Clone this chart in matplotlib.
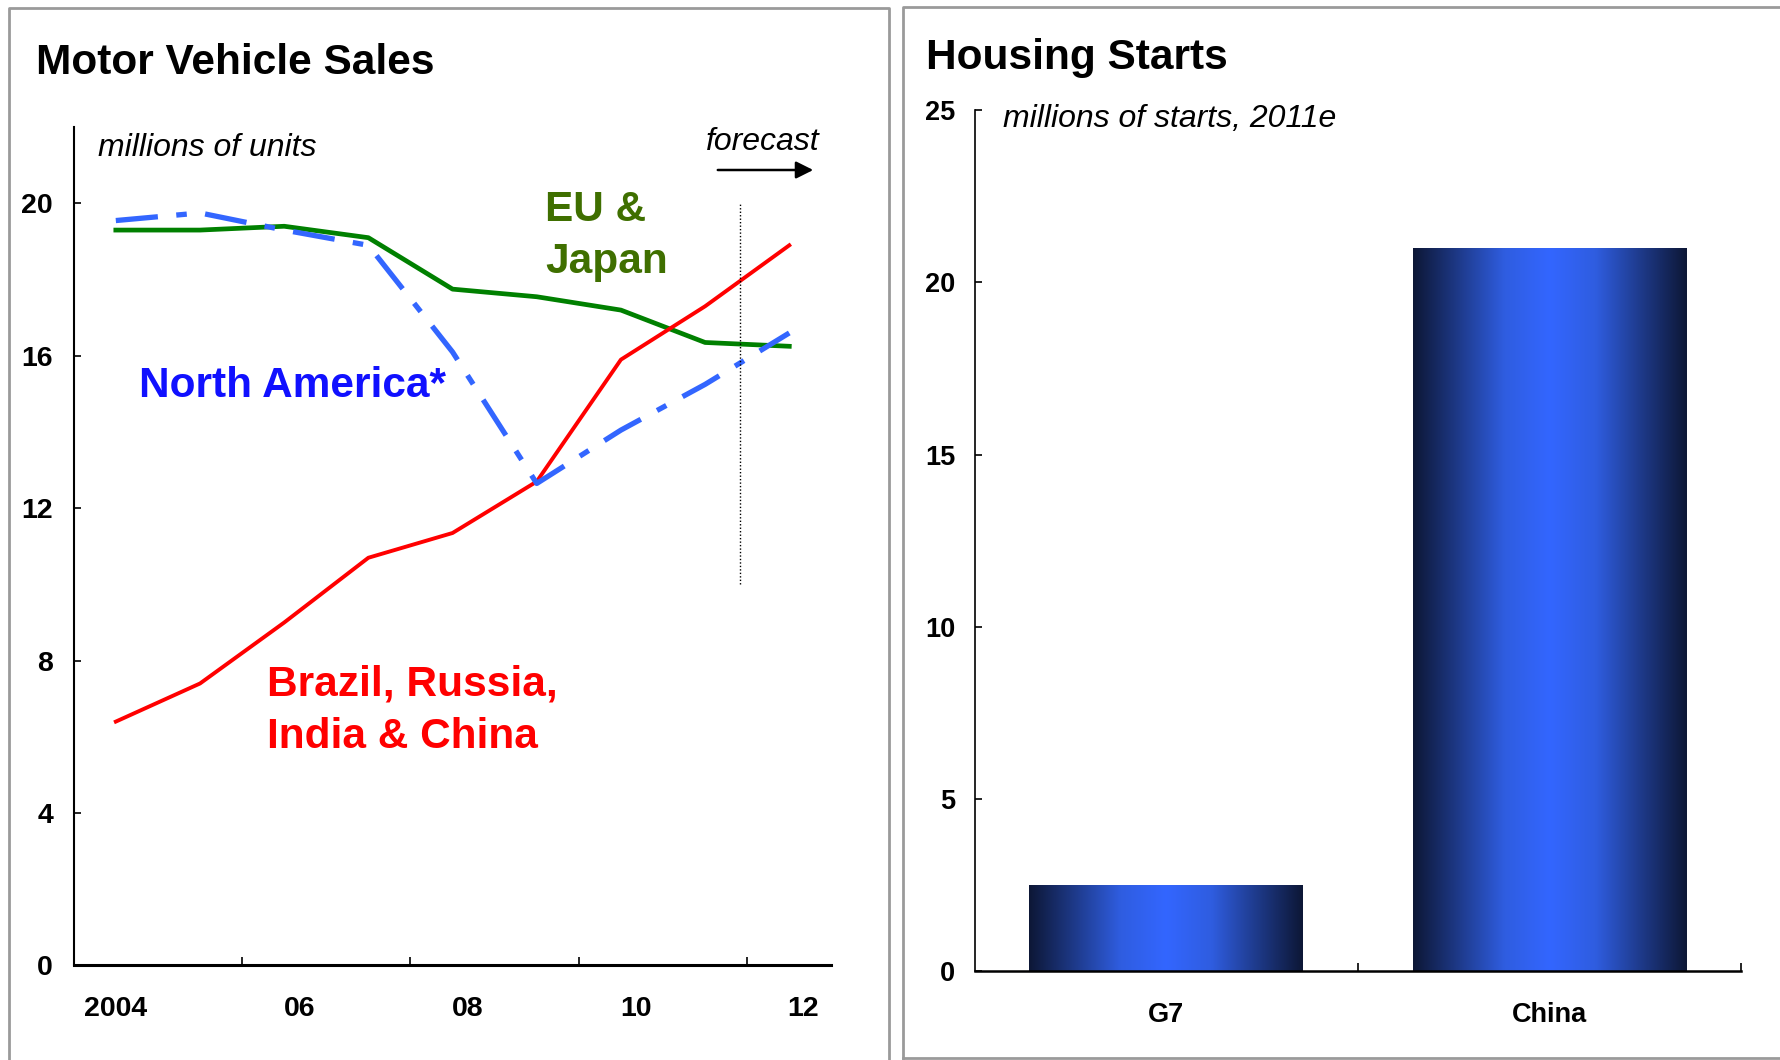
import numpy as np
import matplotlib
matplotlib.use('Agg')
import matplotlib.pyplot as plt
from matplotlib.colors import LinearSegmentedColormap
from matplotlib.lines import Line2D
from matplotlib.patches import FancyArrowPatch

plt.rcParams['font.family'] = ['Liberation Sans', 'DejaVu Sans']

# Motor vehicle sales, millions of units
years = [2004, 2005, 2006, 2007, 2008, 2009, 2010, 2011, 2012]
year_labels = ['2004', '06', '08', '10', '12']
bric = [6.4, 7.4, 9.0, 10.7, 11.35, 12.7, 15.9, 17.3, 18.9]
eu_japan = [19.3, 19.3, 19.4, 19.1, 17.75, 17.55, 17.2, 16.35, 16.25]
north_america = [19.55, 19.75, 19.3, 18.9, 16.1, 12.65, 14.05, 15.25, 16.6]

# Housing starts, millions of starts, 2011e
regions = ['G7', 'China']
starts = [2.5, 21.0]

W, H = 1781, 1060
fig = plt.figure(figsize=(W / 100, H / 100), dpi=100)


def fx(px):
    return px / W


def fy(py):
    return 1 - py / H


# panel frames
gray = '#9a9a9a'
for x0, x1, y0, y1 in [(9, 889, 8, 1062), (903, 1781, 7, 1058)]:
    fig.add_artist(Line2D([fx(x0), fx(x0), fx(x1), fx(x1)],
                          [fy(y1), fy(y0), fy(y0), fy(y1)], color=gray, lw=2))
    fig.add_artist(Line2D([fx(x0), fx(x1)], [fy(y1), fy(y1)], color=gray, lw=2))

# ---- left: motor vehicle sales ----
ax = fig.add_axes([0.0414, 0.0892, 0.4254, 0.7908])
x = np.arange(len(years))
ax.plot(x, eu_japan, color='#008000', lw=3.4)
ax.plot(x, bric, color='#ff0000', lw=2.8)
ax.plot(x, north_america, color='#3366ff', lw=3.8, linestyle=(0, (8, 3.5, 2, 3.5)))
ax.plot([7.42, 7.42], [10, 20], color='black', lw=1, linestyle=(0, (1, 1.5)))

ax.set_xlim(-0.5, 8.5)
ax.set_ylim(0, 22)
ax.set_yticks([0, 4, 8, 12, 16, 20])
ax.set_xticks([0, 2.18, 4.18, 6.18, 8.16])
ax.set_xticklabels(year_labels)
ax.set_xticks([1.5, 3.5, 5.5, 7.5], minor=True)
ax.tick_params(axis='x', which='major', length=0, pad=22, labelsize=20.5)
ax.tick_params(axis='x', which='minor', direction='in', length=6, width=1.2)
ax.tick_params(axis='y', direction='in', length=5, width=1.2, pad=15, labelsize=20.5)
for lab in ax.get_xticklabels() + ax.get_yticklabels():
    lab.set_fontweight('bold')
for s in ['top', 'right']:
    ax.spines[s].set_visible(False)
ax.spines['left'].set_linewidth(1.5)
ax.spines['bottom'].set_linewidth(2.2)

fig.text(fx(36), fy(63), 'Motor Vehicle Sales', fontsize=30.5, fontweight='bold', va='center')
fig.text(fx(98), fy(148), 'millions of units', fontsize=23, style='italic', va='center')
fig.text(fx(763), fy(142), 'forecast', fontsize=23, style='italic', va='center', ha='center')
fig.add_artist(FancyArrowPatch(
    (fx(715), fy(170)), (fx(816), fy(170)), transform=fig.transFigure,
    arrowstyle='-|>', mutation_scale=26, color='black', lw=1.8))
fig.text(fx(545), fy(236), 'EU &\nJapan', fontsize=30.5, fontweight='bold', color='#3f6f00',
         va='center', linespacing=1.4)
fig.text(fx(139), fy(386), 'North America*', fontsize=30.5, fontweight='bold', color='#1010ff',
         va='center')
fig.text(fx(267), fy(711), 'Brazil, Russia,\nIndia & China', fontsize=30.5, fontweight='bold',
         color='#ff0000', va='center', linespacing=1.4)

# ---- right: housing starts ----
ax2 = fig.add_axes([0.5472, 0.0839, 0.4305, 0.8122])
bars = ax2.bar(np.arange(len(regions)), starts, width=0.714, color='none', edgecolor='none')
cmap = LinearSegmentedColormap.from_list('bar', ['#0d1736', '#1e3a8a', '#2f5de0', '#3366ff',
                                                 '#2f5de0', '#1e3a8a', '#0d1736'])
grad = np.linspace(0, 1, 256).reshape(1, -1)
for b in bars:
    bx, by = b.get_x(), b.get_y()
    im = ax2.imshow(grad, cmap=cmap, aspect='auto', interpolation='bicubic',
                    extent=[bx, bx + b.get_width(), by, by + b.get_height()], zorder=2)
    im.set_clip_path(b)

ax2.set_xlim(-0.5, 1.5)
ax2.set_ylim(0, 25)
ax2.set_yticks([0, 5, 10, 15, 20, 25])
ax2.set_xticks([0, 1])
ax2.set_xticklabels(regions)
ax2.set_xticks([0.5, 1.5], minor=True)
ax2.tick_params(axis='x', which='major', length=0, pad=22, labelsize=19.5)
ax2.tick_params(axis='x', which='minor', direction='in', length=6, width=1.2)
ax2.tick_params(axis='y', direction='in', length=5, width=1.2, pad=14, labelsize=19.5)
for lab in ax2.get_xticklabels() + ax2.get_yticklabels():
    lab.set_fontweight('bold')
for s in ['top', 'right']:
    ax2.spines[s].set_visible(False)
ax2.spines['left'].set_linewidth(1.2)
ax2.spines['bottom'].set_linewidth(1.8)

fig.text(fx(926), fy(58), 'Housing Starts', fontsize=30.5, fontweight='bold', va='center')
fig.text(fx(1003), fy(119), 'millions of starts, 2011e', fontsize=23, style='italic', va='center')

plt.savefig('out.png', dpi=100)
